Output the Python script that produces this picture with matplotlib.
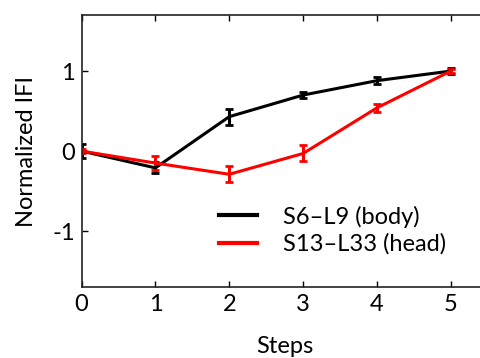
import numpy as np
import matplotlib
matplotlib.use("Agg")
import matplotlib.pyplot as plt
from matplotlib.lines import Line2D

plt.rcParams['font.family'] = ['Lato', 'DejaVu Sans']
plt.rcParams['axes.unicode_minus'] = False

# 데이터
steps = [0, 1, 2, 3, 4, 5]
body_vals = [0.0, -0.21, 0.43, 0.70, 0.88, 1.0]
body_err = [0.09, 0.07, 0.10, 0.04, 0.04, 0.04]
head_vals = [0.0, -0.15, -0.29, -0.03, 0.54, 1.0]
head_err = [0.03, 0.09, 0.10, 0.10, 0.05, 0.03]
labels = ['S6\u2013L9 (body)', 'S13\u2013L33 (head)']
colors = ['k', '#ff0000']

fig = plt.figure(figsize=(4.8, 3.58), dpi=100)
ax = fig.add_axes([0.170, 0.198, 0.846, 0.760])

ax.errorbar(steps, body_vals, yerr=body_err, color=colors[0], lw=2.2,
            elinewidth=2.2, capsize=3, capthick=2)
ax.errorbar(steps, head_vals, yerr=head_err, color=colors[1], lw=2.2,
            elinewidth=2.2, capsize=3, capthick=2)

ax.set_xlim(0, 5.5)
ax.set_ylim(-1.7, 1.7)
ax.set_xticks(steps)
ax.set_yticks([-1, 0, 1])
ax.tick_params(direction='in', length=4, width=1, labelsize=17,
               top=True, right=True, pad=5)
for s in ax.spines.values():
    s.set_linewidth(1.2)
    s.set_color('#222222')

ax.set_xlabel('Steps', fontsize=17, labelpad=15)
ax.set_ylabel('Normalized IFI', fontsize=17, labelpad=11)

handles = [Line2D([], [], color=c, lw=3) for c in colors]
ax.legend(handles, labels, loc='lower right', bbox_to_anchor=(0.95, 0.04),
          frameon=False, fontsize=17, handlelength=1.6, handletextpad=1.1,
          labelspacing=0.25)

fig.savefig('out.png', dpi=100)
